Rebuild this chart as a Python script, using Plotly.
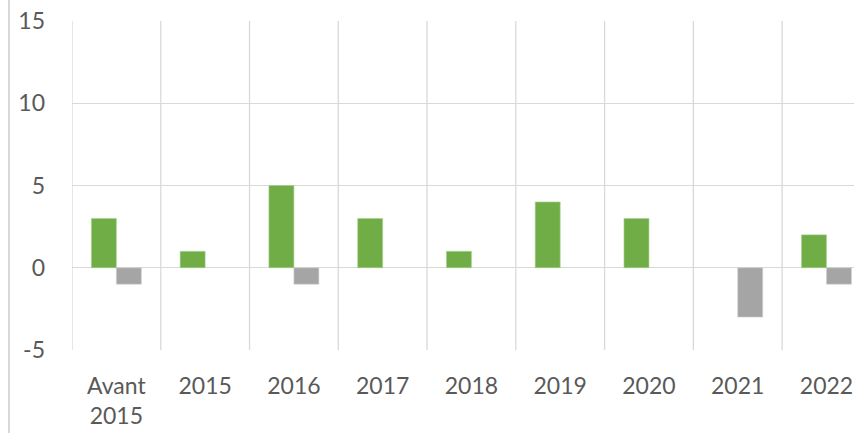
import plotly.graph_objects as go

categories = ["Avant<br>2015", "2015", "2016", "2017", "2018", "2019", "2020", "2021", "2022"]
green_values = [3, 1, 5, 3, 1, 4, 3, None, 2]
gray_values = [-1, None, -1, None, None, None, None, -3, -1]
y_ticks = [-5, 0, 5, 10, 15]
y_tick_labels = ["-5", "0", "5", "10", "15"]

fig = go.Figure()
fig.add_trace(go.Bar(x=categories, y=green_values, marker=dict(color="#70AD47", line=dict(color="#A9D18E", width=0.6)), name="A"))
fig.add_trace(go.Bar(x=categories, y=gray_values, marker=dict(color="#A5A5A5", line=dict(color="#D0D0D0", width=0.6)), name="B"))

fig.update_layout(
    width=854, height=433,
    margin=dict(l=72, r=0, t=21, b=83),
    paper_bgcolor="white", plot_bgcolor="white",
    barmode="group", bargap=0.437, bargroupgap=0,
    showlegend=False,
    font=dict(family="Lato, Open Sans, sans-serif", size=23, color="#595959"),
)
fig.update_xaxes(
    range=[-0.5, 8.31],
    showgrid=False, zeroline=False, showline=False,
    ticks="", ticklabelstandoff=20, tickfont=dict(size=23, color="#595959"),
)
fig.update_yaxes(
    range=[-5, 15], tickvals=y_ticks, ticktext=y_tick_labels,
    showgrid=True, gridcolor="#D9D9D9", gridwidth=1.3,
    zeroline=True, zerolinecolor="#D9D9D9", zerolinewidth=1.3,
    showline=False, ticks="", ticklabelstandoff=26,
    tickfont=dict(size=23, color="#595959"),
)
# vertical category separators
for i in range(10):
    fig.add_shape(type="line", xref="x", yref="y", x0=i - 0.5, x1=i - 0.5, y0=-5, y1=15,
                  line=dict(color="#D9D9D9", width=1.3), layer="below")
# left frame line
fig.add_shape(type="line", xref="paper", yref="paper", x0=-63/782, x1=-63/782, y0=-83/329, y1=21/329 + 1,
              line=dict(color="#D9D9D9", width=2))

fig.write_html("out.html", config={"displayModeBar": False},
               post_script="document.body.style.margin='0';document.body.style.overflow='hidden';")
